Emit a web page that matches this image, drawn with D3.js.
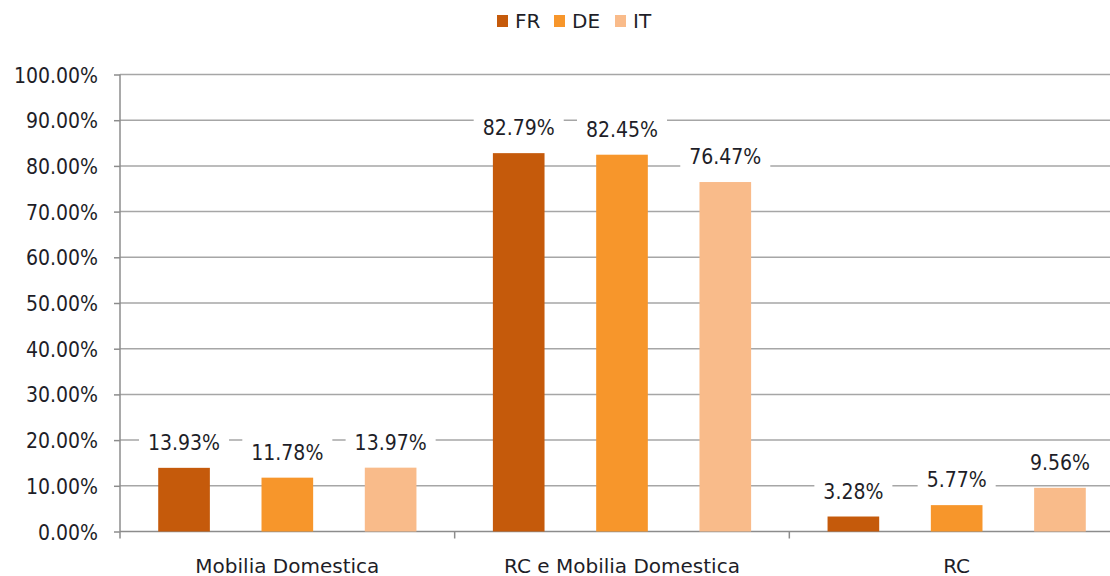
<!DOCTYPE html>
<html>
<head>
<meta charset="utf-8">
<script src="https://cdn.jsdelivr.net/npm/d3@7"></script>
<style>
  body { margin: 0; background: #fff; }
  svg { display: block; font-family: "DejaVu Sans", Verdana, sans-serif; }
  .num { font-family: "DejaVu Sans Condensed", "DejaVu Sans", sans-serif; font-stretch: condensed; }
</style>
</head>
<body>
<svg width="1110" height="576"></svg>
<script>
const categories = ['Mobilia Domestica', 'RC e Mobilia Domestica', 'RC'];
const seriesNames = ['FR', 'DE', 'IT'];
const frValues = [13.93, 82.79, 3.28];
const deValues = [11.78, 82.45, 5.77];
const itValues = [13.97, 76.47, 9.56];
const yTicks = [0, 10, 20, 30, 40, 50, 60, 70, 80, 90, 100];
const colors = ['#c55a0b', '#f7962b', '#f9bb8a'];

const seriesValues = [frValues, deValues, itValues];
const data = categories.map((c, i) => ({
  category: c,
  values: seriesNames.map((s, j) => ({ key: s, value: seriesValues[j][i] }))
}));

const svg = d3.select('svg');
const textColor = '#1e1e28';
const axisColor = '#8c8c8c';

const x0 = d3.scaleBand()
  .domain(categories)
  .range([120, 1124]);

const x1 = d3.scaleBand()
  .domain(seriesNames)
  .range([0, x0.bandwidth()])
  .paddingInner(0.5)
  .paddingOuter(0.37);

const y = d3.scaleLinear()
  .domain([0, 100])
  .range([531.5, 74.5]);

const color = d3.scaleOrdinal().domain(seriesNames).range(colors);

// gridlines
svg.append('g')
  .selectAll('line')
  .data(yTicks.filter(d => d > 0))
  .join('line')
    .attr('x1', 120)
    .attr('x2', 1124)
    .attr('y1', d => y(d))
    .attr('y2', d => y(d))
    .attr('stroke', '#a6a6a6')
    .attr('stroke-width', 1.5);

// y axis
const yAxis = d3.axisLeft(y)
  .tickValues(yTicks)
  .tickSize(6)
  .tickPadding(16)
  .tickFormat(d => d.toFixed(2) + '%');

const yAxisG = svg.append('g')
  .attr('transform', 'translate(120,0)')
  .call(yAxis);
yAxisG.selectAll('line, path').attr('stroke', axisColor).attr('stroke-width', 1.5);
yAxisG.select('.domain').attr('d', `M0,${y(100)}V${y(0)}`);
yAxisG.selectAll('text')
  .attr('class', 'num')
  .attr('font-size', 21)
  .attr('font-family', null)
  .attr('fill', textColor)
  .attr('dy', '0.36em');

// x axis
const xAxisG = svg.append('g')
  .attr('transform', `translate(0,${y(0)})`);
xAxisG.append('line')
  .attr('x1', 120).attr('x2', 1124)
  .attr('stroke', axisColor).attr('stroke-width', 1.5);
xAxisG.selectAll('.sep')
  .data([0].concat(categories.map(d => x0(d) + x0.bandwidth())))
  .join('line')
    .attr('class', 'sep')
    .attr('x1', d => d === 0 ? 120 : d)
    .attr('x2', d => d === 0 ? 120 : d)
    .attr('y1', 0).attr('y2', 7)
    .attr('stroke', axisColor).attr('stroke-width', 1.5);
xAxisG.selectAll('.cat')
  .data(categories)
  .join('text')
    .attr('class', 'cat')
    .attr('x', d => x0(d) + x0.bandwidth() / 2)
    .attr('y', 41)
    .attr('text-anchor', 'middle')
    .attr('font-size', 20)
    .attr('fill', textColor)
    .text(d => d);

// bars
const groups = svg.append('g')
  .selectAll('g')
  .data(data)
  .join('g')
    .attr('transform', d => `translate(${x0(d.category)},0)`);

groups.selectAll('rect')
  .data(d => d.values)
  .join('rect')
    .attr('x', d => x1(d.key))
    .attr('y', d => y(d.value))
    .attr('width', x1.bandwidth())
    .attr('height', d => y(0) - y(d.value))
    .attr('fill', d => color(d.key));

// value labels with white boxes
const labels = groups.selectAll('g.label')
  .data(d => d.values)
  .join('g')
    .attr('class', 'label')
    .attr('transform', d => `translate(${x1(d.key) + x1.bandwidth() / 2},${y(d.value) - 18})`);

labels.append('text')
  .attr('class', 'num')
  .attr('text-anchor', 'middle')
  .attr('font-size', 21)
  .attr('fill', textColor)
  .text(d => d.value.toFixed(2) + '%');

labels.each(function() {
  const g = d3.select(this);
  const bb = g.select('text').node().getBBox();
  g.insert('rect', 'text')
    .attr('x', bb.x - 9)
    .attr('y', bb.y - 2)
    .attr('width', bb.width + 18)
    .attr('height', bb.height + 4)
    .attr('fill', '#fff');
});

// legend
const legend = svg.append('g')
  .selectAll('g')
  .data(seriesNames)
  .join('g')
    .attr('transform', (d, i) => `translate(${[497, 554, 615][i]},0)`);
legend.append('rect')
  .attr('x', 0).attr('y', 15)
  .attr('width', 11).attr('height', 12)
  .attr('fill', d => color(d));
legend.append('text')
  .attr('x', 18).attr('y', 28)
  .attr('font-size', 20)
  .attr('fill', textColor)
  .text(d => d);
</script>
</body>
</html>
